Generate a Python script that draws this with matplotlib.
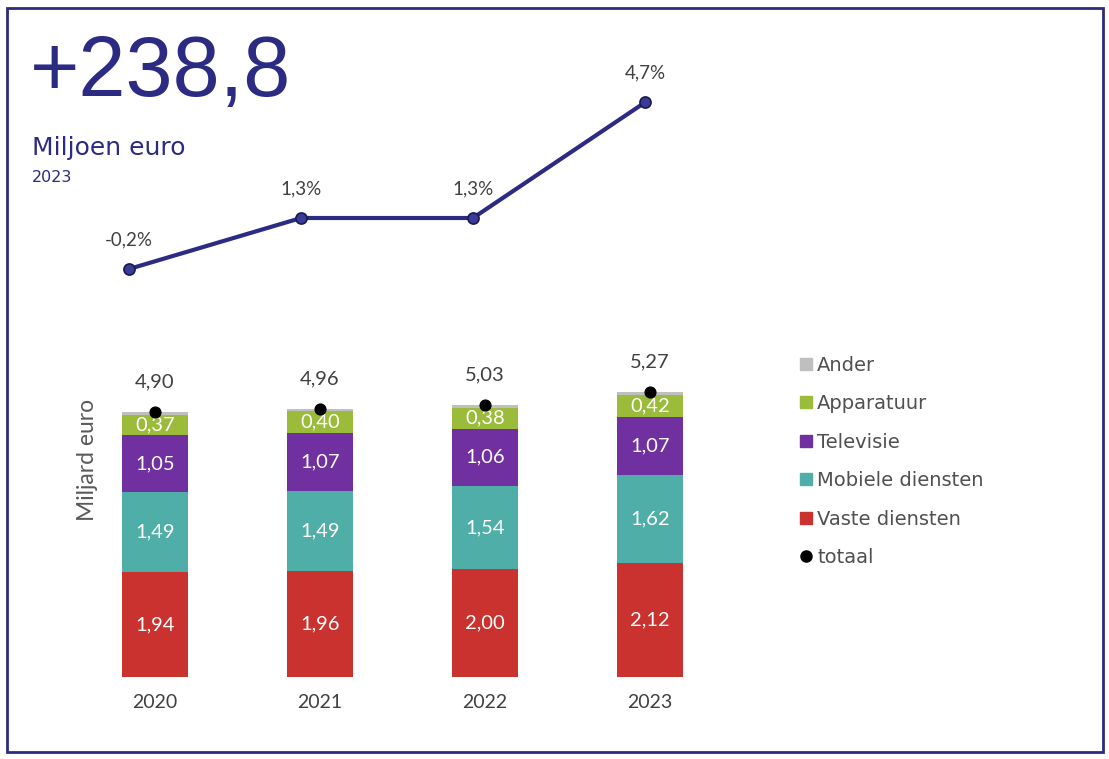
import matplotlib
matplotlib.use("Agg")
import matplotlib.pyplot as plt
from matplotlib.patches import Rectangle
from matplotlib.lines import Line2D
import numpy as np

years = ["2020", "2021", "2022", "2023"]
vaste = [1.94, 1.96, 2.00, 2.12]
mobiele = [1.49, 1.49, 1.54, 1.62]
televisie = [1.05, 1.07, 1.06, 1.07]
apparatuur = [0.37, 0.40, 0.38, 0.42]
ander = [0.05, 0.04, 0.05, 0.04]
totaal = [4.90, 4.96, 5.03, 5.27]
groei = [-0.2, 1.3, 1.3, 4.7]

series = [("Vaste diensten", vaste, "#C9322F"),
          ("Mobiele diensten", mobiele, "#4FAEA7"),
          ("Televisie", televisie, "#7030A0"),
          ("Apparatuur", apparatuur, "#9BBB3B"),
          ("Ander", ander, "#BFBFBF")]

W, H = 1109, 759
fig = plt.figure(figsize=(W / 100, H / 100), dpi=100)
navy = "#2B2B83"
NUMF = ["Lato", "DejaVu Sans"]

def fx(px):
    return px / W

def fy(py):
    return 1 - py / H

# frame
fig.patches.append(Rectangle((fx(7), fy(752)), fx(1103) - fx(7), fy(8) - fy(752),
                             transform=fig.transFigure, fill=False,
                             edgecolor=navy, linewidth=2))

# titles
fig.text(fx(30), fy(74), "+238,8", fontsize=61, color=navy,
         family="Liberation Sans", va="center", ha="left")
fig.text(fx(32), fy(148), "Miljoen euro", fontsize=18, color=navy,
         family="DejaVu Sans", va="center", ha="left")
fig.text(fx(32), fy(178), "2023", fontsize=11.5, color=navy,
         family="DejaVu Sans", va="center", ha="left")

# bar axes
ppu = 54.0
base = 677
top = 340
ax = fig.add_axes([fx(72.5), fy(base), 660 / W, (base - top) / H])
ax.set_xlim(-0.5, 3.5)
ax.set_ylim(0, (base - top) / ppu)
x = np.arange(len(years))
bottom = np.zeros(len(years))
for name, vals, col in series:
    vals = np.array(vals)
    ax.bar(x, vals, width=0.405, bottom=bottom, color=col, label=name, zorder=2)
    if name != "Ander":
        for xi, b, v in zip(x, bottom, vals):
            ax.text(xi, b + v / 2, f"{v:.2f}".replace(".", ","), ha="center",
                    va="center", color="white", fontsize=14.5, family=NUMF, zorder=4)
    bottom += vals
ax.scatter(x, totaal, s=60, color="black", zorder=5)
for xi, t in zip(x, totaal):
    ax.annotate(f"{t:.2f}".replace(".", ","), (xi, t), xytext=(0, 22),
                textcoords="offset points", ha="center", va="center",
                fontsize=14.5, color="#404040", family=NUMF)
for s in ax.spines.values():
    s.set_visible(False)
ax.set_yticks([])
ax.set_xticks(x)
ax.set_xticklabels(years, fontsize=14, color="#404040", family=NUMF)
ax.tick_params(axis="x", length=0, pad=12)
fig.text(fx(87), fy(460), "Miljard euro", rotation=90, fontsize=16.5,
         color="#595959", family=NUMF, ha="center", va="center")

# line axes
ax2 = fig.add_axes([fx(43), fy(296.2), 688 / W, (296.2 - 75.2) / H])
ax2.set_xlim(-0.5, 3.5)
ax2.set_ylim(-1, 5.5)
ax2.plot(x, groei, color=navy, linewidth=3, marker="o", markersize=8,
         markerfacecolor="#3A3A99", markeredgecolor="#1A1A50", markeredgewidth=1.2)
for xi, g in zip(x, groei):
    ax2.annotate(f"{g:.1f}%".replace(".", ","), (xi, g), xytext=(0, 21),
                 textcoords="offset points", ha="center", va="center",
                 fontsize=13.5, color="#404040", family=NUMF)
ax2.axis("off")

# legend
handles = []
for name, vals, col in reversed(series):
    handles.append(Line2D([], [], linestyle="none", marker="s", markersize=8,
                          color=col, label=name))
handles.append(Line2D([], [], linestyle="none", marker="o", markersize=8,
                      color="black", label="totaal"))
leg = fig.legend(handles=handles, loc="upper left",
                 bbox_to_anchor=(fx(792), fy(348)), frameon=False,
                 prop={"family": "DejaVu Sans", "size": 14},
                 labelspacing=1.0, handlelength=0.6, handletextpad=0.3,
                 borderaxespad=0)
for t in leg.get_texts():
    t.set_color("#505050")

fig.savefig("out.png", dpi=100)
